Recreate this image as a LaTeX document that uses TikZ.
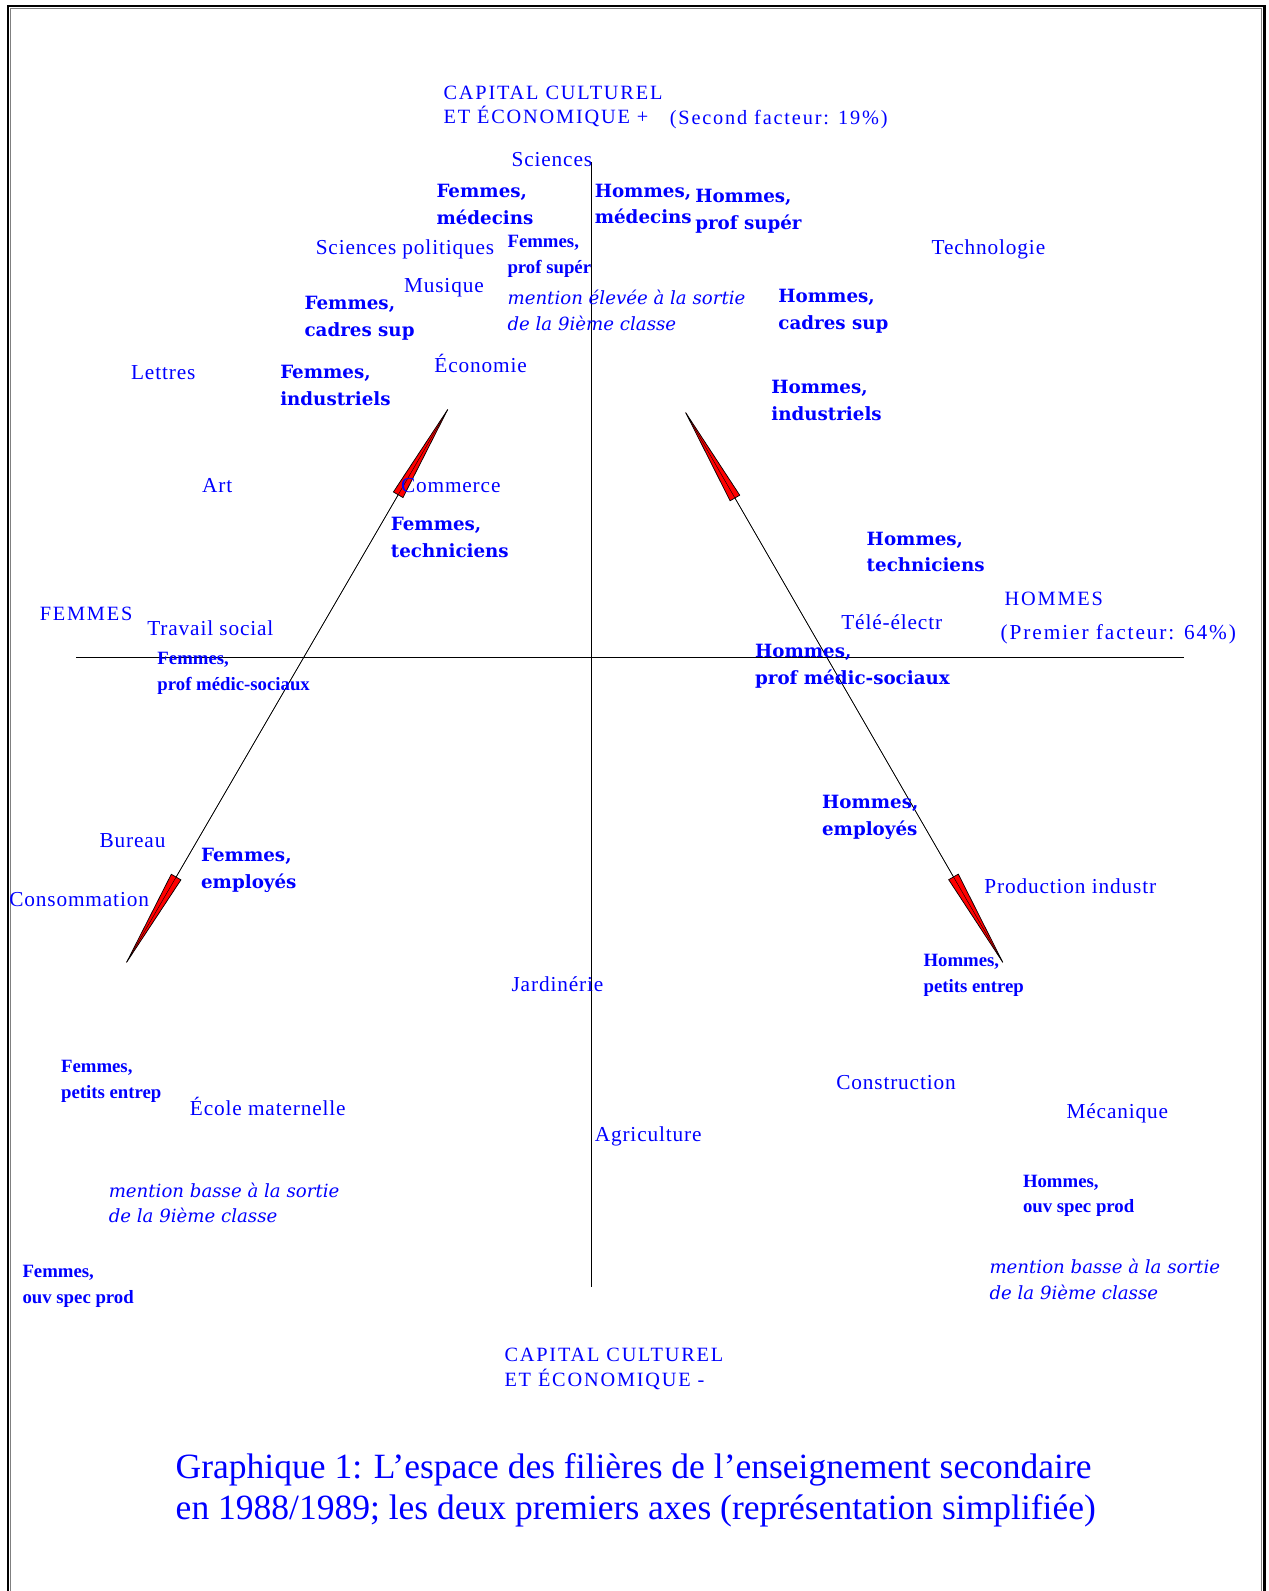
\documentclass[tikz,border=0pt]{standalone}
\usepackage{fontspec}
\setmainfont{Liberation Serif}
\newfontfamily\labfont{Liberation Serif}[LetterSpace=4]
\newfontfamily\axfont{Liberation Serif}[LetterSpace=9]
\newfontfamily\grpfont{DejaVu Serif}
\newfontfamily\notefont{DejaVu Serif}
\usetikzlibrary{arrows.meta,calc}
\definecolor{txtblue}{HTML}{0000FF}
\definecolor{headred}{HTML}{FF0000}

\begin{document}
\begin{tikzpicture}[x=1pt,y=-1pt,
    lab/.style={text=txtblue,anchor=west,inner sep=0pt,align=left,
                font=\labfont\fontsize{21}{25}\selectfont},
    axlab/.style={lab,font=\axfont\fontsize{20}{24}\selectfont},
    grp/.style={text=txtblue,anchor=west,inner sep=0pt,align=left,
                font=\grpfont\bfseries\fontsize{18}{26.5}\selectfont},
    grpsm/.style={grp,font=\bfseries\fontsize{18.5}{25.5}\selectfont},
    note/.style={text=txtblue,anchor=west,inner sep=0pt,align=left,
                 font=\notefont\itshape\fontsize{17.9}{25.5}\selectfont},
    head/.style={{Triangle[length=104pt,width=11.5pt,fill=headred]}-{Triangle[length=104pt,width=11.5pt,fill=headred]}}]
  \useasboundingbox (0,0) rectangle (1250,1568);

  % frame
  \draw[gray,line width=1pt] (10.5,1568) -- (10.5,8.5) -- (1243.5,8.5) -- (1243.5,1568);
  \draw[line width=2.5pt] (8,1568) -- (8,6) -- (1246,6) -- (1246,1568);

  % axes
  \coordinate (axN) at (583,160);
  \coordinate (axS) at (583,1268);
  \coordinate (axW) at (75,648);
  \coordinate (axE) at (1167,648);
  \draw[line width=1.1pt] (axN) -- (axS);
  \draw[line width=1.1pt] (axW) -- (axE);

  % trajectories
  \coordinate (lTop) at (444.5,398);
  \coordinate (lBot) at (121.5,954);
  \coordinate (rTop) at (672.5,401);
  \coordinate (rBot) at (991.5,954);
  \draw[head,line width=0.7pt] (lTop) -- (lBot);
  \draw[head,line width=0.7pt] (rTop) -- (rBot);
  \draw[line width=0.4pt] ($(lTop)!7pt!(lBot)$) -- ($(lBot)!7pt!(lTop)$);
  \draw[line width=0.4pt] ($(rTop)!7pt!(rBot)$) -- ($(rBot)!7pt!(rTop)$);

  % axis labels
  \node[axlab] (capTop) at (437,105) {CAPITAL CULTUREL\\ET ÉCONOMIQUE +};
  \node[axlab] (facteur2) at (660,118) {(Second facteur: 19\%)};
  \node[axlab] (hommes) at (990,590) {HOMMES};
  \node[axlab,font=\axfont\fontsize{21}{25}\selectfont] (facteur1) at (986,625) {(Premier facteur: 64\%)};
  \node[axlab] (femmes) at (39,605) {FEMMES};
  \node[axlab] (capBot) at (497,1349) {CAPITAL CULTUREL\\ET ÉCONOMIQUE -};

  % filieres
  \node[lab] (sciences) at (504,157) {Sciences};
  \node[lab] (sciPol) at (311,246) {Sciences politiques};
  \node[lab] (techno) at (918,246) {Technologie};
  \node[lab] (musique) at (398,284) {Musique};
  \node[lab] (lettres) at (129,367) {Lettres};
  \node[lab] (economie) at (428,358) {Économie};
  \node[lab] (art) at (199,479) {Art};
  \node[lab] (commerce) at (395,479) {Commerce};
  \node[lab] (travail) at (145,619) {Travail social};
  \node[lab] (tele) at (829,613) {Télé-électr};
  \node[lab] (bureau) at (98,828) {Bureau};
  \node[lab] (conso) at (9,887) {Consommation};
  \node[lab] (prodInd) at (970,873) {Production industr};
  \node[lab] (jardin) at (504,970) {Jardinérie};
  \node[lab] (ecole) at (187,1090) {École maternelle};
  \node[lab] (construction) at (824,1067) {Construction};
  \node[lab] (mecanique) at (1051,1097) {Mécanique};
  \node[lab] (agri) at (586,1120) {Agriculture};

  % groupes
  \node[grp] (fMed) at (430,201.5) {Femmes,\\médecins};
  \node[grp] (hMed) at (586,201) {Hommes,\\médecins};
  \node[grp] (hProf) at (685,208.5) {Hommes,\\prof supér};
  \node[grpsm] (fProf) at (500,253) {Femmes,\\prof supér};
  \node[grp] (fCadres) at (300,313.5) {Femmes,\\cadres sup};
  \node[grp] (hCadres) at (767,306.5) {Hommes,\\cadres sup};
  \node[grp] (fIndus) at (276,380) {Femmes,\\industriels};
  \node[grp] (hIndus) at (760,395) {Hommes,\\industriels};
  \node[grp] (fTech) at (385,529.5) {Femmes,\\techniciens};
  \node[grp] (hTech) at (854,544) {Hommes,\\techniciens};
  \node[grpsm] (fMedic) at (155,663.5) {Femmes,\\prof médic-sociaux};
  \node[grp] (hMedic) at (744,657) {Hommes,\\prof médic-sociaux};
  \node[grp] (hEmpl) at (810,805.5) {Hommes,\\employés};
  \node[grp] (fEmpl) at (198,858) {Femmes,\\employés};
  \node[grpsm] (hPetits) at (910,961.5) {Hommes,\\petits entrep};
  \node[grpsm] (fPetits) at (60,1066) {Femmes,\\petits entrep};
  \node[grpsm] (hOuv) at (1008,1178.5) {Hommes,\\ouv spec prod};
  \node[grpsm] (fOuv) at (22,1267.5) {Femmes,\\ouv spec prod};

  % mentions
  \node[note] (mentHaut) at (500,306) {mention élevée à la sortie\\de la 9ième classe};
  \node[note] (mentBasF) at (107,1185.5) {mention basse à la sortie\\de la 9ième classe};
  \node[note] (mentBasH) at (975,1260.5) {mention basse à la sortie\\de la 9ième classe};

  \node[text=txtblue,anchor=west,inner sep=0pt,align=left,
        font=\fontsize{35}{40}\selectfont] (caption) at (173,1469)
    {Graphique 1: L’espace des filières de l’enseignement secondaire\\
     en 1988/1989; les deux premiers axes (représentation simplifiée)};
\end{tikzpicture}
\end{document}
